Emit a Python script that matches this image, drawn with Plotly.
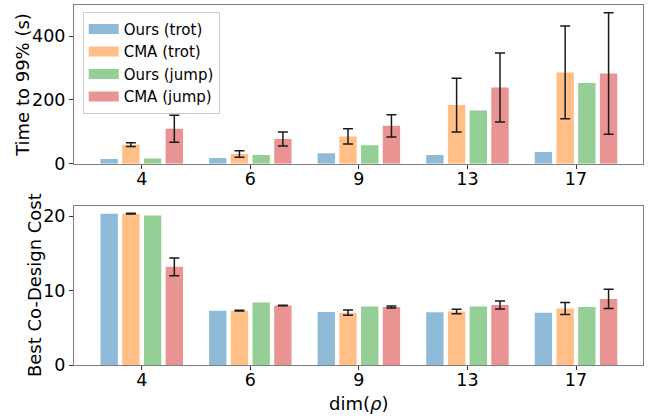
import plotly.graph_objects as go
from plotly.subplots import make_subplots

categories = ["4", "6", "9", "13", "17"]
series_names = ["Ours (trot)", "CMA (trot)", "Ours (jump)", "CMA (jump)"]
colors = ["rgba(31,119,180,0.5)", "rgba(255,127,14,0.5)",
          "rgba(44,160,44,0.5)", "rgba(214,39,40,0.5)"]

# Top panel: Time to 99% (s)
time_ours_trot = [15, 18, 33, 28, 37]
time_cma_trot = [60, 31, 86, 184, 286]
time_cma_trot_err = [6, 10, 24, 84, 145]
time_ours_jump = [17, 28, 58, 167, 253]
time_cma_jump = [110, 78, 119, 239, 283]
time_cma_jump_err = [42, 22, 35, 108, 190]

# Bottom panel: Best Co-Design Cost
cost_ours_trot = [20.35, 7.3, 7.13, 7.08, 7.04]
cost_cma_trot = [20.35, 7.3, 7.04, 7.2, 7.6]
cost_cma_trot_err = [0.05, 0.05, 0.35, 0.3, 0.8]
cost_ours_jump = [20.1, 8.4, 7.85, 7.85, 7.8]
cost_cma_jump = [13.2, 8.0, 7.8, 8.07, 8.88]
cost_cma_jump_err = [1.2, 0.05, 0.13, 0.55, 1.3]

FONT = "DejaVu Sans"
fig = make_subplots(rows=2, cols=1, vertical_spacing=0.1166)

err_style = dict(type="data", color="#1a1a1a", thickness=1.5, width=5)

top = [(time_ours_trot, None), (time_cma_trot, time_cma_trot_err),
       (time_ours_jump, None), (time_cma_jump, time_cma_jump_err)]
bot = [(cost_ours_trot, None), (cost_cma_trot, cost_cma_trot_err),
       (cost_ours_jump, None), (cost_cma_jump, cost_cma_jump_err)]

for row, data in ((1, top), (2, bot)):
    for i, (vals, err) in enumerate(data):
        kw = {}
        if err is not None:
            kw["error_y"] = dict(array=err, **err_style)
        fig.add_trace(go.Bar(x=categories, y=vals, name=series_names[i],
                             marker=dict(color=colors[i], line=dict(width=0)),
                             showlegend=False, **kw), row=row, col=1)

# legend entries (wide patch look)
for i, name in enumerate(series_names):
    fig.add_trace(go.Scatter(x=[None], y=[None], mode="lines", name=name,
                             line=dict(color=colors[i], width=10),
                             showlegend=True), row=1, col=1)

fig.update_layout(
    width=656, height=416,
    margin=dict(l=74, r=13.3, t=5, b=50.7),
    paper_bgcolor="white", plot_bgcolor="white",
    font=dict(family=FONT, size=18, color="black"),
    barmode="group", bargap=0.2, bargroupgap=0.2,
    showlegend=True,
    legend=dict(x=0.0153, y=0.9815, xanchor="left", yanchor="top",
                bgcolor="rgba(255,255,255,0.8)", bordercolor="#cccccc",
                borderwidth=1, font=dict(size=15, family=FONT),
                itemwidth=30, tracegroupgap=0),
)

axis_common = dict(showline=True, linecolor="#7f7f7f", linewidth=1, mirror=True,
                   ticks="outside", ticklen=4, tickcolor="#333", showgrid=False,
                   zeroline=False, automargin=False,
                   tickfont=dict(size=17.5, family=FONT))

fig.update_xaxes(type="category", range=[-0.624, 4.617], ticklabelstandoff=-5,
                 **axis_common)
fig.update_yaxes(**axis_common)
fig.update_layout(
    xaxis=dict(domain=[0, 1]),
    xaxis2=dict(domain=[0, 1]),
    yaxis=dict(domain=[0.5587, 1], range=[0, 497], tickvals=[0, 200, 400]),
    yaxis2=dict(domain=[0, 0.4421], range=[0, 21.4], tickvals=[0, 10, 20]),
)

title_font = dict(size=18, family=FONT, color="black")
fig.add_annotation(text="Time to 99% (s)", textangle=-90, xref="paper", yref="paper",
                   x=-0.0906, y=0.7794, xanchor="center", yanchor="middle",
                   showarrow=False, font=title_font)
fig.add_annotation(text="Best Co-Design Cost", textangle=-90, xref="paper", yref="paper",
                   x=-0.0691, y=0.2211, xanchor="center", yanchor="middle",
                   showarrow=False, font=title_font)
fig.add_annotation(text="dim(<i>ρ</i>)", xref="paper", yref="paper",
                   x=0.5, y=-0.0713, xanchor="center", yanchor="top",
                   showarrow=False, font=title_font)

fig.write_html("out.html", config={"displayModeBar": False},
               post_script="document.body.style.margin='0';document.body.style.overflow='hidden';")
